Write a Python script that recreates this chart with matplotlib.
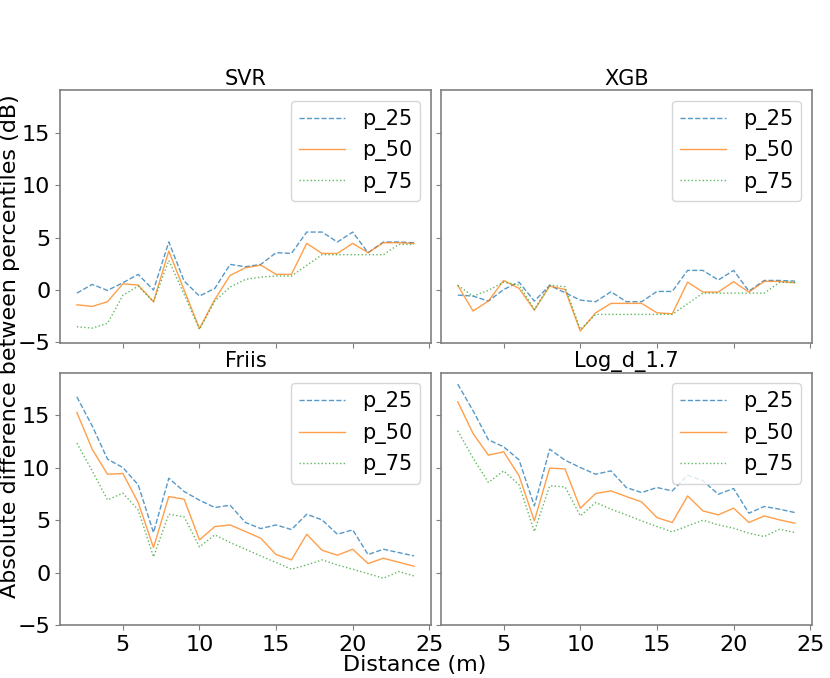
import matplotlib
matplotlib.use("Agg")
import matplotlib.pyplot as plt

distance = list(range(2, 25))

titles = ["SVR", "XGB", "Friis", "Log_d_1.7"]
labels = ["p_25", "p_50", "p_75"]

svr_p25 = [-0.29, 0.54, -0.03, 0.7, 1.5, 0.0, 4.6, 0.86, -0.57, 0.16, 2.45, 2.23, 2.45, 3.57, 3.5, 5.54, 5.54, 4.59, 5.54, 3.57, 4.59, 4.59, 4.52]
svr_p50 = [-1.4, -1.56, -1.11, 0.6, 0.48, -1.11, 3.73, 0.0, -3.66, -0.9, 1.4, 2.13, 2.39, 1.5, 1.5, 4.46, 3.5, 3.5, 4.46, 3.57, 4.52, 4.52, 4.46]
svr_p75 = [-3.5, -3.63, -3.18, -0.5, 0.38, -1.11, 2.83, -0.4, -3.76, -1.05, 0.29, 1.02, 1.24, 1.34, 1.34, 2.36, 3.38, 3.38, 3.38, 3.38, 3.38, 4.36, 4.36]

xgb_p25 = [-0.48, -0.57, -1.05, 0.06, 0.76, -1.05, 0.45, -0.25, -0.96, -1.11, -0.16, -1.11, -1.11, -0.13, -0.13, 1.88, 1.88, 0.96, 1.88, -0.1, 0.92, 0.92, 0.86]
xgb_p50 = [0.45, -2.0, -1.05, 0.92, 0.16, -1.91, 0.38, 0.06, -3.92, -2.17, -1.27, -1.27, -1.27, -2.17, -2.26, 0.76, -0.19, -0.19, 0.8, -0.19, 0.83, 0.83, 0.7]
xgb_p75 = [0.45, -0.57, -0.03, 0.76, 0.48, -1.85, 0.48, 0.32, -3.76, -2.32, -2.32, -2.32, -2.32, -2.32, -2.32, -1.3, -0.29, -0.29, -0.29, -0.29, -0.29, 0.73, 0.73]

friis_p25 = [16.78, 14.0, 10.83, 10.03, 8.38, 3.82, 9.01, 7.74, 6.91, 6.21, 6.43, 4.78, 4.2, 4.55, 4.11, 5.57, 5.03, 3.66, 4.08, 1.72, 2.23, 1.91, 1.59]
friis_p50 = [15.29, 11.78, 9.39, 9.46, 6.69, 2.39, 7.26, 7.0, 3.12, 4.39, 4.55, 3.92, 3.28, 1.72, 1.21, 3.66, 2.13, 1.66, 2.23, 0.86, 1.37, 0.99, 0.61]
friis_p75 = [12.36, 9.71, 6.94, 7.58, 5.99, 1.5, 5.57, 5.32, 2.45, 3.6, 2.87, 2.23, 1.59, 0.96, 0.32, 0.73, 1.21, 0.73, 0.32, -0.1, -0.54, 0.1, -0.32]

logd_p25 = [17.99, 15.45, 12.68, 12.0, 10.76, 6.37, 11.78, 10.73, 10.03, 9.39, 9.71, 8.12, 7.64, 8.12, 7.8, 9.3, 8.76, 7.48, 8.03, 5.67, 6.31, 6.05, 5.73]
logd_p50 = [16.31, 13.28, 11.21, 11.53, 9.24, 4.94, 9.97, 9.9, 6.15, 7.55, 7.8, 7.26, 6.75, 5.25, 4.78, 7.32, 5.89, 5.51, 6.15, 4.78, 5.41, 5.03, 4.71]
logd_p75 = [13.54, 10.92, 8.6, 9.71, 8.38, 3.92, 8.28, 8.18, 5.41, 6.69, 6.05, 5.51, 4.94, 4.39, 3.89, 4.46, 5.0, 4.55, 4.24, 3.76, 3.44, 4.14, 3.82]

panels = [
    (svr_p25, svr_p50, svr_p75),
    (xgb_p25, xgb_p50, xgb_p75),
    (friis_p25, friis_p50, friis_p75),
    (logd_p25, logd_p50, logd_p75),
]

colors = ["#1f77b4", "#ff7f0e", "#2ca02c"]
styles = ["--", "-", ":"]

fig, axes = plt.subplots(2, 2, sharex=True, sharey=True, figsize=(8.3, 6.78), dpi=100)
fig.subplots_adjust(left=0.0723, right=0.978, top=0.867, bottom=0.078,
                    wspace=0.027, hspace=0.119)

for ax, title, series in zip(axes.flat, titles, panels):
    for vals, lab, c, ls in zip(series, labels, colors, styles):
        ax.plot(distance, vals, ls, color=c, lw=1.0, alpha=0.75, label=lab)
    ax.set_title(title, fontsize=15, pad=4)
    ax.legend(loc="upper right", fontsize=15, framealpha=0.8, handlelength=2.2)
    for sp in ax.spines.values():
        sp.set_color("0.5")
        sp.set_linewidth(1.2)
    ax.tick_params(colors="0.5", labelcolor="black", labelsize=16, length=3.5)

axes[0, 0].set_xticks([5, 10, 15, 20, 25])
axes[0, 0].set_yticks([-5, 0, 5, 10, 15])

fig.supxlabel("Distance (m)", fontsize=16, x=0.5, y=0.005)
fig.supylabel("Absolute difference between percentiles (dB)", fontsize=16, x=0.0, y=0.49)

fig.savefig("out.png", dpi=100)
